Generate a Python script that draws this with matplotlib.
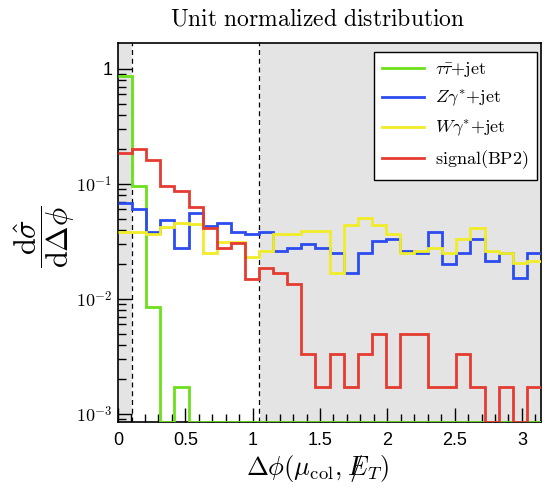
import numpy as np
import matplotlib
matplotlib.use("Agg")
import matplotlib.pyplot as plt
from matplotlib.ticker import LogLocator, MultipleLocator, NullFormatter

plt.rcParams['mathtext.fontset'] = 'cm'

# 30 bins over [0, pi]
n_bins = 30
edges = np.linspace(0, np.pi, n_bins + 1)

tautau = [0.875, 0.096, 0.0086, 0, 0.0017, 0, 0, 0, 0, 0,
          0, 0, 0, 0, 0, 0, 0, 0, 0, 0,
          0, 0, 0, 0, 0, 0, 0, 0, 0, 0]
zgamma = [0.068, 0.060, 0.038, 0.0486, 0.0276, 0.056, 0.0434, 0.046, 0.038, 0.037,
          0.0385, 0.0263, 0.028, 0.0299, 0.0279, 0.025, 0.0167, 0.0253, 0.0318, 0.0335,
          0.0263, 0.025, 0.0385, 0.0201, 0.025, 0.0333, 0.0215, 0.025, 0.0153, 0.025]
wgamma = [0.0385, 0.0385, 0.0366, 0.0426, 0.0455, 0.0446, 0.025, 0.0311, 0.0311, 0.0233,
          0.0263, 0.0367, 0.0367, 0.039, 0.039, 0.0167, 0.044, 0.0503, 0.044, 0.0367,
          0.0253, 0.026, 0.0279, 0.025, 0.0333, 0.0417, 0.0262, 0.025, 0.0204, 0.0215]
signal = [0.185, 0.2, 0.162, 0.096, 0.0875, 0.0635, 0.041, 0.0276, 0.0305, 0.0149,
          0.0187, 0.0167, 0.0135, 0.00333, 0.0017, 0.00333, 0.0017, 0.00333, 0.005, 0.0017,
          0.005, 0.005, 0.0017, 0.0017, 0.0033, 0.0017, 0, 0.0017, 0, 0.0017]

labels = [r"$\tau\bar{\tau}{+}\mathrm{jet}$", r"$Z\gamma^{*}{+}\mathrm{jet}$",
          r"$W\gamma^{*}{+}\mathrm{jet}$", r"$\mathrm{signal(BP2)}$"]
colors = ["#6ce01c", "#2b4cf0", "#f0ec28", "#e53b30"]

ymin, ymax = 8.52e-4, 1.68
cut_lo, cut_hi = np.pi / 30, np.pi / 3

fig = plt.figure(figsize=(5.45, 4.93), dpi=100)
ax = fig.add_axes([118 / 545, 1 - 422 / 493, 423 / 545, 379 / 493])
ax.set_facecolor("#e4e4e4")
ax.axvspan(cut_lo, cut_hi, color="white", zorder=0)
ax.axvline(cut_lo, color="black", ls=(0, (4, 3)), lw=0.9, zorder=1)
ax.axvline(cut_hi, color="black", ls=(0, (4, 3)), lw=0.9, zorder=1)

for vals, lab, col in zip([tautau, zgamma, wgamma, signal], labels, colors):
    # empty bins sit on the lower edge of the frame
    v = np.maximum(np.array(vals), ymin)
    ax.stairs(v, edges, color=col, lw=2.0, label=lab, zorder=3, baseline=None)

ax.set_yscale("log")
ax.set_xlim(0, np.pi)
ax.set_ylim(ymin, ymax)

ax.xaxis.set_minor_locator(MultipleLocator(0.1))
ax.set_xticks([0, 0.5, 1, 1.5, 2, 2.5, 3])
ax.set_xticklabels(["0", "0.5", "1", "1.5", "2", "2.5", "3"])
ax.yaxis.set_minor_locator(LogLocator(base=10, subs=np.arange(2, 10)))
ax.yaxis.set_minor_formatter(NullFormatter())
ax.set_yticks([1e-3, 1e-2, 1e-1, 1])
ax.set_yticklabels([r"$10^{-3}$", r"$10^{-2}$", r"$10^{-1}$", "1"])

ax.tick_params(which="both", direction="in", top=False, right=False, width=1.0)
ax.tick_params(which="major", length=10)
ax.tick_params(which="minor", length=6)
ax.tick_params(axis="x", pad=7)
ax.tick_params(axis="y", pad=4)
for lbl in ax.get_xticklabels() + ax.get_yticklabels():
    lbl.set_fontfamily("Liberation Sans")
    lbl.set_fontsize(13)
for s in ax.spines.values():
    s.set_linewidth(1.2)

leg = ax.legend(loc="upper right", bbox_to_anchor=(0.9905, 0.977), fontsize=13,
                frameon=True, fancybox=False, edgecolor="black", framealpha=1,
                handlelength=2.3, handletextpad=0.65, labelspacing=0.52,
                borderpad=0.45, borderaxespad=0)
leg.get_frame().set_linewidth(1.0)
leg.set_zorder(5)

fig.text(318 / 545, 1 - 18 / 493, r"$\mathrm{Unit\ normalized\ distribution}$",
         ha="center", va="center", fontsize=17)
fig.text(318 / 545, 1 - 468 / 493, r"$\Delta\phi(\mu_{\mathrm{col}},\,/\!\!\!\!E_T)$",
         ha="center", va="center", fontsize=19)
fig.text(45 / 545, 1 - 237 / 493,
         r"$\dfrac{\mathrm{d}\hat{\sigma}}{\mathrm{d}\Delta\phi}$",
         ha="center", va="center", rotation=90, fontsize=22)

fig.savefig("out.png", dpi=100)
